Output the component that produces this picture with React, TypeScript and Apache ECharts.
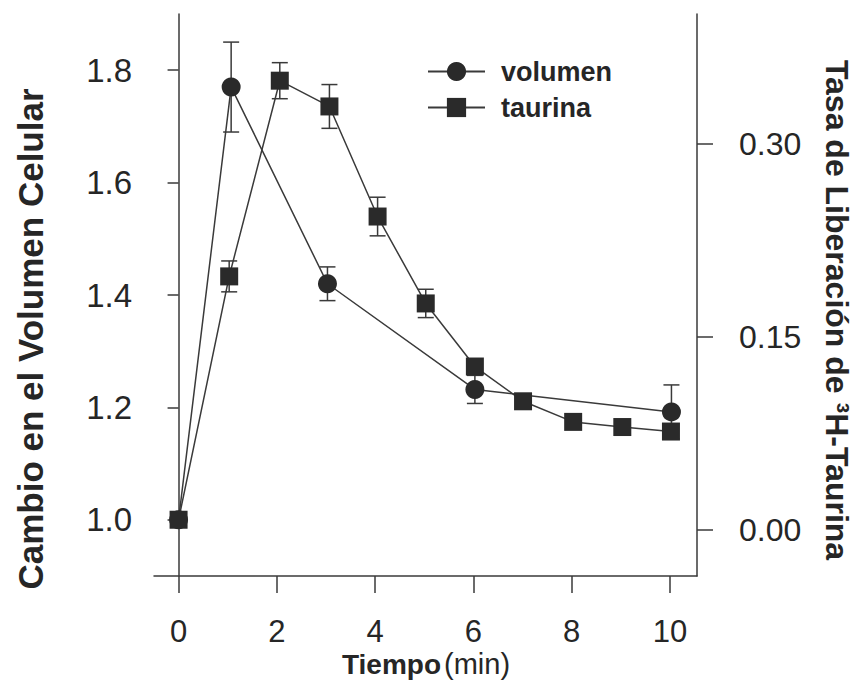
import React, { useEffect, useRef } from "react";
import * as echarts from "echarts";

// Volumen (left axis)
const volTimes = [0, 1.07, 3.03, 6.03, 10.03];
const volValues = [1.0, 1.77, 1.42, 1.232, 1.192];
const volErrors = [0, 0.08, 0.03, 0.025, 0.048];

// Taurina (right axis)
const taurTimes = [0, 1.03, 2.06, 3.07, 4.05, 5.03, 6.03, 7.01, 8.03, 9.03, 10.02];
const taurValues = [0.008, 0.197, 0.349, 0.329, 0.2435, 0.176, 0.127, 0.1, 0.084, 0.08, 0.0765];
const taurErrors = [0, 0.012, 0.014, 0.017, 0.015, 0.011, 0, 0, 0, 0, 0];

const xTicks = [0, 2, 4, 6, 8, 10];
const leftTicks = [1.0, 1.2, 1.4, 1.6, 1.8];
const rightTicks = [0, 0.15, 0.3];

const FONT = '"Liberation Sans", Arial, Helvetica, sans-serif';
const INK = "#262626";
const LINE = "#3a3a3a";

function errorBarSeries(name: string, times: number[], values: number[], errors: number[], yAxisIndex: number) {
  return {
    name,
    type: "custom",
    xAxisIndex: 0,
    yAxisIndex,
    z: 1,
    silent: true,
    data: times.map((t, i) => [t, values[i], errors[i]]),
    renderItem: (params: any, api: any) => {
      const x = api.value(0);
      const y = api.value(1);
      const e = api.value(2);
      const top = api.coord([x, y + e]);
      const bot = api.coord([x, y - e]);
      const cap = 8;
      const style = { stroke: LINE, lineWidth: 1.5 };
      return {
        type: "group",
        children: [
          { type: "line", shape: { x1: top[0], y1: top[1], x2: bot[0], y2: bot[1] }, style },
          { type: "line", shape: { x1: top[0] - cap, y1: top[1], x2: top[0] + cap, y2: top[1] }, style },
          { type: "line", shape: { x1: bot[0] - cap, y1: bot[1], x2: bot[0] + cap, y2: bot[1] }, style },
        ],
      };
    },
  };
}

export default function App() {
  const ref = useRef<HTMLDivElement>(null);
  useEffect(() => {
    if (!ref.current) return;
    const chart = echarts.init(ref.current, undefined, { renderer: "svg" });
    const axisLine = { show: true, lineStyle: { color: LINE, width: 1.5 } };
    chart.setOption({
      animation: false,
      backgroundColor: "#ffffff",
      grid: { left: 154, right: 157, top: 14, bottom: 104, containLabel: false, outerBoundsMode: "none" },
      legend: {
        orient: "vertical",
        left: 427,
        top: 58,
        padding: 0,
        itemWidth: 57,
        itemHeight: 24,
        itemGap: 9,
        data: ["volumen", "taurina"],
        textStyle: { fontFamily: FONT, fontSize: 27, fontWeight: "bold", color: INK, padding: [0, 0, 0, 11] },
      },
      xAxis: {
        type: "value",
        min: -0.5,
        max: 10.55,
        axisLine: { ...axisLine, onZero: false },
        splitLine: { show: false },
        axisTick: { show: true, inside: false, length: 17, customValues: xTicks, lineStyle: { color: LINE, width: 1.5 } },
        axisLabel: {
          customValues: xTicks,
          margin: 40,
          fontFamily: FONT,
          fontSize: 31,
          color: INK,
          formatter: (v: number) => String(v),
        },
      },
      yAxis: [
        {
          type: "value",
          position: "left",
          min: 0.9,
          max: 1.9,
          axisLine,
          splitLine: { show: false },
          axisTick: { show: true, length: 11, customValues: leftTicks, lineStyle: { color: LINE, width: 1.5 } },
          axisLabel: {
            customValues: leftTicks,
            margin: 22,
            fontFamily: FONT,
            fontSize: 33,
            color: INK,
            formatter: (v: number) => v.toFixed(1),
          },
        },
        {
          type: "value",
          position: "right",
          min: -0.0357,
          max: 0.4008,
          axisLine,
          splitLine: { show: false },
          axisTick: { show: true, length: 16, customValues: rightTicks, lineStyle: { color: LINE, width: 1.5 } },
          axisLabel: {
            customValues: rightTicks,
            margin: 42,
            fontFamily: FONT,
            fontSize: 32,
            color: INK,
            formatter: (v: number) => v.toFixed(2),
          },
        },
      ],
      graphic: [
        {
          type: "text",
          x: 30,
          y: 339,
          rotation: Math.PI / 2,
          style: {
            text: "Cambio en el Volumen Celular",
            font: `bold 35px ${FONT}`,
            fill: INK,
            align: "center",
            verticalAlign: "middle",
            textAlign: "center",
            textVerticalAlign: "middle",
          },
        },
        {
          type: "text",
          x: 837,
          y: 310,
          rotation: -Math.PI / 2,
          style: {
            text: "Tasa de Liberación de ³H-Taurina",
            font: `bold 32px ${FONT}`,
            fill: INK,
            align: "center",
            verticalAlign: "middle",
            textAlign: "center",
            textVerticalAlign: "middle",
          },
        },
        {
          type: "text",
          x: 426,
          y: 664,
          style: {
            text: "{b|Tiempo}{r|(min)}",
            rich: {
              b: { font: `bold 28px ${FONT}`, fill: INK, color: INK },
              r: { font: `29px ${FONT}`, fill: INK, color: INK, padding: [0, 0, 0, 3] },
            },
            fill: INK,
            align: "center",
            verticalAlign: "middle",
            textAlign: "center",
            textVerticalAlign: "middle",
          },
        },
      ],
      series: [
        errorBarSeries("volumen-err", volTimes, volValues, volErrors, 0),
        errorBarSeries("taurina-err", taurTimes, taurValues, taurErrors, 1),
        {
          name: "volumen",
          type: "line",
          xAxisIndex: 0,
          yAxisIndex: 0,
          z: 3,
          data: volTimes.map((t, i) => [t, volValues[i]]),
          symbol: "circle",
          symbolSize: 19,
          showAllSymbol: true,
          lineStyle: { color: LINE, width: 1.5 },
          itemStyle: { color: "#2a2a2a", borderWidth: 0 },
        },
        {
          name: "taurina",
          type: "line",
          xAxisIndex: 0,
          yAxisIndex: 1,
          z: 3,
          data: taurTimes.map((t, i) => [t, taurValues[i]]),
          symbol: "rect",
          symbolSize: 18,
          showAllSymbol: true,
          lineStyle: { color: LINE, width: 1.5 },
          itemStyle: { color: "#2a2a2a", borderWidth: 0 },
        },
      ],
    });
    return () => chart.dispose();
  }, []);
  return <div ref={ref} style={{ width: 854, height: 680, position: "absolute", left: 0, top: 0 }} />;
}
